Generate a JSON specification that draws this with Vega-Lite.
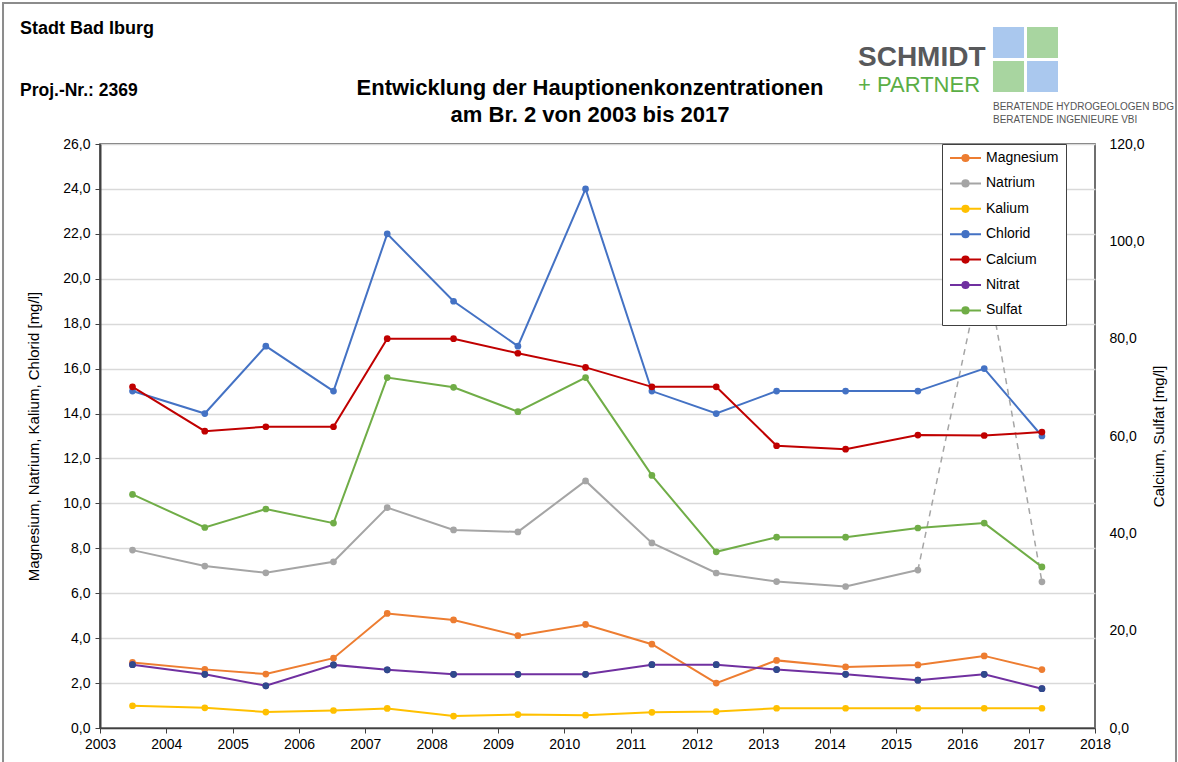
{
  "$schema": "https://vega.github.io/schema/vega-lite/v6.json",
  "width": 995,
  "height": 584,
  "autosize": {"type": "none"},
  "padding": {"left": 100, "top": 144, "right": 83, "bottom": 34},
  "background": "white",
  "data": {
    "values": [
      {"ion": "Magnesium", "year": 2003.49, "value": 2.92},
      {"ion": "Magnesium", "year": 2004.58, "value": 2.61},
      {"ion": "Magnesium", "year": 2005.50, "value": 2.40},
      {"ion": "Magnesium", "year": 2006.52, "value": 3.11},
      {"ion": "Magnesium", "year": 2007.33, "value": 5.10},
      {"ion": "Magnesium", "year": 2008.33, "value": 4.81},
      {"ion": "Magnesium", "year": 2009.30, "value": 4.11},
      {"ion": "Magnesium", "year": 2010.32, "value": 4.61},
      {"ion": "Magnesium", "year": 2011.32, "value": 3.73},
      {"ion": "Magnesium", "year": 2012.29, "value": 2.00},
      {"ion": "Magnesium", "year": 2013.20, "value": 3.01},
      {"ion": "Magnesium", "year": 2014.24, "value": 2.72},
      {"ion": "Magnesium", "year": 2015.33, "value": 2.81},
      {"ion": "Magnesium", "year": 2016.33, "value": 3.21},
      {"ion": "Magnesium", "year": 2017.20, "value": 2.60},
      {"ion": "Natrium", "year": 2003.49, "value": 7.92},
      {"ion": "Natrium", "year": 2004.58, "value": 7.21},
      {"ion": "Natrium", "year": 2005.50, "value": 6.91},
      {"ion": "Natrium", "year": 2006.52, "value": 7.40},
      {"ion": "Natrium", "year": 2007.33, "value": 9.81},
      {"ion": "Natrium", "year": 2008.33, "value": 8.82},
      {"ion": "Natrium", "year": 2009.30, "value": 8.73},
      {"ion": "Natrium", "year": 2010.32, "value": 11.0},
      {"ion": "Natrium", "year": 2011.32, "value": 8.24},
      {"ion": "Natrium", "year": 2012.29, "value": 6.90},
      {"ion": "Natrium", "year": 2013.20, "value": 6.52},
      {"ion": "Natrium", "year": 2014.24, "value": 6.30},
      {"ion": "Natrium", "year": 2015.33, "value": 7.03},
      {"ion": "Natrium", "year": 2016.33, "value": 20.9},
      {"ion": "Natrium", "year": 2017.20, "value": 6.51},
      {"ion": "Kalium", "year": 2003.49, "value": 0.99},
      {"ion": "Kalium", "year": 2004.58, "value": 0.90},
      {"ion": "Kalium", "year": 2005.50, "value": 0.71},
      {"ion": "Kalium", "year": 2006.52, "value": 0.78},
      {"ion": "Kalium", "year": 2007.33, "value": 0.87},
      {"ion": "Kalium", "year": 2008.33, "value": 0.53},
      {"ion": "Kalium", "year": 2009.30, "value": 0.60},
      {"ion": "Kalium", "year": 2010.32, "value": 0.57},
      {"ion": "Kalium", "year": 2011.32, "value": 0.70},
      {"ion": "Kalium", "year": 2012.29, "value": 0.73},
      {"ion": "Kalium", "year": 2013.20, "value": 0.88},
      {"ion": "Kalium", "year": 2014.24, "value": 0.88},
      {"ion": "Kalium", "year": 2015.33, "value": 0.88},
      {"ion": "Kalium", "year": 2016.33, "value": 0.88},
      {"ion": "Kalium", "year": 2017.20, "value": 0.88},
      {"ion": "Chlorid", "year": 2003.49, "value": 15},
      {"ion": "Chlorid", "year": 2004.58, "value": 14},
      {"ion": "Chlorid", "year": 2005.50, "value": 17},
      {"ion": "Chlorid", "year": 2006.52, "value": 15},
      {"ion": "Chlorid", "year": 2007.33, "value": 22},
      {"ion": "Chlorid", "year": 2008.33, "value": 19},
      {"ion": "Chlorid", "year": 2009.30, "value": 17},
      {"ion": "Chlorid", "year": 2010.32, "value": 24},
      {"ion": "Chlorid", "year": 2011.32, "value": 15},
      {"ion": "Chlorid", "year": 2012.29, "value": 14},
      {"ion": "Chlorid", "year": 2013.20, "value": 15},
      {"ion": "Chlorid", "year": 2014.24, "value": 15},
      {"ion": "Chlorid", "year": 2015.33, "value": 15},
      {"ion": "Chlorid", "year": 2016.33, "value": 16},
      {"ion": "Chlorid", "year": 2017.20, "value": 13},
      {"ion": "Calcium", "year": 2003.49, "value": 70.1},
      {"ion": "Calcium", "year": 2004.58, "value": 61.0},
      {"ion": "Calcium", "year": 2005.50, "value": 61.9},
      {"ion": "Calcium", "year": 2006.52, "value": 61.9},
      {"ion": "Calcium", "year": 2007.33, "value": 80.0},
      {"ion": "Calcium", "year": 2008.33, "value": 80.0},
      {"ion": "Calcium", "year": 2009.30, "value": 77.0},
      {"ion": "Calcium", "year": 2010.32, "value": 74.1},
      {"ion": "Calcium", "year": 2011.32, "value": 70.1},
      {"ion": "Calcium", "year": 2012.29, "value": 70.1},
      {"ion": "Calcium", "year": 2013.20, "value": 58.0},
      {"ion": "Calcium", "year": 2014.24, "value": 57.3},
      {"ion": "Calcium", "year": 2015.33, "value": 60.2},
      {"ion": "Calcium", "year": 2016.33, "value": 60.1},
      {"ion": "Calcium", "year": 2017.20, "value": 60.8},
      {"ion": "Nitrat", "year": 2003.49, "value": 2.82},
      {"ion": "Nitrat", "year": 2004.58, "value": 2.39},
      {"ion": "Nitrat", "year": 2005.50, "value": 1.88},
      {"ion": "Nitrat", "year": 2006.52, "value": 2.81},
      {"ion": "Nitrat", "year": 2007.33, "value": 2.59},
      {"ion": "Nitrat", "year": 2008.33, "value": 2.39},
      {"ion": "Nitrat", "year": 2009.30, "value": 2.39},
      {"ion": "Nitrat", "year": 2010.32, "value": 2.39},
      {"ion": "Nitrat", "year": 2011.32, "value": 2.82},
      {"ion": "Nitrat", "year": 2012.29, "value": 2.82},
      {"ion": "Nitrat", "year": 2013.20, "value": 2.60},
      {"ion": "Nitrat", "year": 2014.24, "value": 2.39},
      {"ion": "Nitrat", "year": 2015.33, "value": 2.13},
      {"ion": "Nitrat", "year": 2016.33, "value": 2.39},
      {"ion": "Nitrat", "year": 2017.20, "value": 1.75},
      {"ion": "Sulfat", "year": 2003.49, "value": 48.0},
      {"ion": "Sulfat", "year": 2004.58, "value": 41.2},
      {"ion": "Sulfat", "year": 2005.50, "value": 45.0},
      {"ion": "Sulfat", "year": 2006.52, "value": 42.1},
      {"ion": "Sulfat", "year": 2007.33, "value": 72.0},
      {"ion": "Sulfat", "year": 2008.33, "value": 70.0},
      {"ion": "Sulfat", "year": 2009.30, "value": 65.0},
      {"ion": "Sulfat", "year": 2010.32, "value": 72.0},
      {"ion": "Sulfat", "year": 2011.32, "value": 51.9},
      {"ion": "Sulfat", "year": 2012.29, "value": 36.2},
      {"ion": "Sulfat", "year": 2013.20, "value": 39.2},
      {"ion": "Sulfat", "year": 2014.24, "value": 39.2},
      {"ion": "Sulfat", "year": 2015.33, "value": 41.1},
      {"ion": "Sulfat", "year": 2016.33, "value": 42.1},
      {"ion": "Sulfat", "year": 2017.20, "value": 33.1}
    ]
  },
  "layer": [
    {
      "transform": [{"filter": "datum.ion !== 'Calcium' && datum.ion !== 'Sulfat'"}],
      "layer": [
        {
          "transform": [{"filter": "!(datum.ion === 'Natrium' && datum.year > 2015.5)"}],
          "mark": {"type": "line", "strokeWidth": 2},
          "encoding": {
            "x": {"field": "year", "type": "quantitative", "scale": {"domain": [2003, 2018], "nice": false, "zero": false},
                  "axis": {"title": null, "values": [2003,2004,2005,2006,2007,2008,2009,2010,2011,2012,2013,2014,2015,2016,2017,2018], "format": "d", "grid": false, "tickSize": 5, "labelPadding": 4, "labelFontSize": 14, "labelColor": "black", "labelFont": "Liberation Sans", "domainColor": "#404040", "domainWidth": 1.5, "tickColor": "#404040", "labelFlush": false}},
            "y": {"field": "value", "type": "quantitative", "scale": {"domain": [0, 26], "nice": false, "zero": true},
                  "axis": {"title": "Magnesium, Natrium, Kalium, Chlorid [mg/l]", "orient": "left", "values": [0,2,4,6,8,10,12,14,16,18,20,22,24,26], "labelExpr": "replace(format(datum.value, '.1f'), '.', ',')", "grid": true, "gridColor": "#D9D9D9", "gridWidth": 1.5, "tickSize": 5, "labelPadding": 5, "labelFontSize": 14, "labelColor": "black", "labelFont": "Liberation Sans", "titleFont": "Liberation Sans", "titleFontSize": 15, "titleFontWeight": "normal", "titleColor": "black", "titlePadding": 21, "domainColor": "#404040", "domainWidth": 2, "tickColor": "#404040"}},
            "color": {"field": "ion", "type": "nominal",
              "scale": {"domain": ["Magnesium", "Natrium", "Kalium", "Chlorid", "Calcium", "Nitrat", "Sulfat"], "range": ["#ED7D31", "#A5A5A5", "#FFC000", "#4472C4", "#C00000", "#7030A0", "#70AD47"]},
              "legend": {"title": null, "orient": "none", "legendX": 842, "legendY": 0, "padding": 7, "fillColor": "white", "strokeColor": "#404040", "labelFontSize": 14, "labelFont": "Liberation Sans", "labelColor": "black", "labelOffset": 4, "clipHeight": 14, "rowPadding": 11.4, "symbolType": "M-1,0L1,0M-0.2,0A0.2,0.2,0,1,0,0.2,0A0.2,0.2,0,1,0,-0.2,0Z", "symbolSize": 961, "symbolStrokeWidth": 2, "labelLimit": 300,
                "encode": {"symbols": {"update": {"fill": {"signal": "datum.value === 'Nitrat' ? '#2F4A8C' : scale('color', datum.value)"}, "stroke": {"signal": "scale('color', datum.value)"}, "strokeWidth": {"value": 2}, "shape": {"value": "M-1,0L1,0M-0.2,0A0.2,0.2,0,1,0,0.2,0A0.2,0.2,0,1,0,-0.2,0Z"}, "size": {"value": 961}, "opacity": {"value": 1}}}}}}
          }
        },
        {
          "transform": [{"filter": "datum.ion === 'Natrium' && datum.year > 2015"}],
          "mark": {"type": "line", "strokeWidth": 1.5, "strokeDash": [6, 5], "color": "#A5A5A5"},
          "encoding": {
            "x": {"field": "year", "type": "quantitative"},
            "y": {"field": "value", "type": "quantitative"}
          }
        },
        {
          "mark": {"type": "point", "filled": true, "size": 45, "opacity": 1},
          "encoding": {
            "x": {"field": "year", "type": "quantitative"},
            "y": {"field": "value", "type": "quantitative"},
            "color": {"field": "ion", "type": "nominal"}
          }
        },
        {
          "transform": [{"filter": "datum.ion === 'Nitrat'"}],
          "mark": {"type": "point", "filled": true, "size": 45, "opacity": 1, "color": "#2F4A8C"},
          "encoding": {
            "x": {"field": "year", "type": "quantitative"},
            "y": {"field": "value", "type": "quantitative"}
          }
        }
      ]
    },
    {
      "transform": [{"filter": "datum.ion === 'Calcium' || datum.ion === 'Sulfat'"}],
      "layer": [
        {
          "mark": {"type": "line", "strokeWidth": 2},
          "encoding": {
            "x": {"field": "year", "type": "quantitative"},
            "y": {"field": "value", "type": "quantitative", "scale": {"domain": [0, 120], "nice": false, "zero": true},
                  "axis": {"title": "Calcium, Sulfat [mg/l]", "orient": "right", "values": [0,20,40,60,80,100,120], "labelExpr": "replace(format(datum.value, '.1f'), '.', ',')", "grid": false, "ticks": false, "domain": false, "labelPadding": 14, "labelFontSize": 14, "labelColor": "black", "labelFont": "Liberation Sans", "titleFont": "Liberation Sans", "titleFontSize": 15, "titleFontWeight": "normal", "titleColor": "black", "titleAngle": 270, "titlePadding": 22}},
            "color": {"field": "ion", "type": "nominal"}
          }
        },
        {
          "mark": {"type": "point", "filled": true, "size": 45, "opacity": 1},
          "encoding": {
            "x": {"field": "year", "type": "quantitative"},
            "y": {"field": "value", "type": "quantitative"},
            "color": {"field": "ion", "type": "nominal"}
          }
        }
      ]
    },
    {
      "data": {"values": [{}]},
      "layer": [
        {
          "mark": {"type": "rect", "fill": null, "filled": false, "stroke": "#8C8C8C", "strokeWidth": 2},
          "encoding": {
            "x": {"datum": 2001.538, "type": "quantitative", "scale": {"domain": [2003, 2018], "nice": false, "zero": false}},
            "x2": {"datum": 2019.221},
            "y": {"datum": 32.277, "type": "quantitative", "scale": {"domain": [0, 26], "nice": false}, "axis": null},
            "y2": {"datum": -2.2}
          }
        },
        {
          "mark": {"type": "text", "text": ["Entwicklung der Hauptionenkonzentrationen", "am Br. 2 von 2003 bis 2017"], "align": "center", "baseline": "alphabetic", "lineHeight": 27, "font": "Liberation Sans", "fontSize": 22, "fontWeight": "bold", "color": "black"},
          "encoding": {
            "x": {"datum": 2010.387, "type": "quantitative"},
            "y": {"datum": 28.182, "type": "quantitative"}
          }
        },
        {
          "mark": {"type": "text", "text": "Stadt Bad Iburg", "align": "left", "baseline": "alphabetic", "font": "Liberation Sans", "fontSize": 18, "fontWeight": "bold", "color": "black"},
          "encoding": {
            "x": {"datum": 2001.794, "type": "quantitative"},
            "y": {"datum": 30.897, "type": "quantitative"}
          }
        },
        {
          "mark": {"type": "text", "text": "Proj.-Nr.: 2369", "align": "left", "baseline": "alphabetic", "font": "Liberation Sans", "fontSize": 17.5, "fontWeight": "bold", "color": "black"},
          "encoding": {
            "x": {"datum": 2001.794, "type": "quantitative"},
            "y": {"datum": 28.137, "type": "quantitative"}
          }
        },
        {
          "mark": {"type": "text", "text": "SCHMIDT", "align": "left", "baseline": "alphabetic", "font": "Liberation Sans", "fontSize": 28, "fontWeight": "bold", "color": "#58595B"},
          "encoding": {
            "x": {"datum": 2014.427, "type": "quantitative"},
            "y": {"datum": 29.473, "type": "quantitative"}
          }
        },
        {
          "mark": {"type": "text", "text": "+ PARTNER", "align": "left", "baseline": "alphabetic", "font": "Liberation Sans", "fontSize": 22, "fontWeight": "normal", "color": "#5AAE45"},
          "encoding": {
            "x": {"datum": 2014.427, "type": "quantitative"},
            "y": {"datum": 28.315, "type": "quantitative"}
          }
        },
        {
          "mark": {"type": "rect", "fill": "#AAC8EE"},
          "encoding": {
            "x": {"datum": 2016.462, "type": "quantitative"}, "x2": {"datum": 2016.930},
            "y": {"datum": 31.209, "type": "quantitative"}, "y2": {"datum": 29.829}
          }
        },
        {
          "mark": {"type": "rect", "fill": "#A8D5A0"},
          "encoding": {
            "x": {"datum": 2016.975, "type": "quantitative"}, "x2": {"datum": 2017.442},
            "y": {"datum": 31.209, "type": "quantitative"}, "y2": {"datum": 29.829}
          }
        },
        {
          "mark": {"type": "rect", "fill": "#A8D5A0"},
          "encoding": {
            "x": {"datum": 2016.462, "type": "quantitative"}, "x2": {"datum": 2016.930},
            "y": {"datum": 29.695, "type": "quantitative"}, "y2": {"datum": 28.315}
          }
        },
        {
          "mark": {"type": "rect", "fill": "#AAC8EE"},
          "encoding": {
            "x": {"datum": 2016.975, "type": "quantitative"}, "x2": {"datum": 2017.442},
            "y": {"datum": 29.695, "type": "quantitative"}, "y2": {"datum": 28.315}
          }
        },
        {
          "mark": {"type": "text", "text": "BERATENDE HYDROGEOLOGEN BDG", "align": "left", "baseline": "alphabetic", "font": "Liberation Sans", "fontSize": 10, "color": "#555555"},
          "encoding": {
            "x": {"datum": 2016.462, "type": "quantitative"},
            "y": {"datum": 27.513, "type": "quantitative"}
          }
        },
        {
          "mark": {"type": "text", "text": "BERATENDE INGENIEURE VBI", "align": "left", "baseline": "alphabetic", "font": "Liberation Sans", "fontSize": 10, "color": "#555555"},
          "encoding": {
            "x": {"datum": 2016.462, "type": "quantitative"},
            "y": {"datum": 26.935, "type": "quantitative"}
          }
        }
      ]
    }
  ],
  "resolve": {"scale": {"y": "independent"}, "axis": {"y": "independent"}},
  "config": {
    "font": "Liberation Sans",
    "view": {"stroke": "#404040", "strokeWidth": 1.5}
  }
}
